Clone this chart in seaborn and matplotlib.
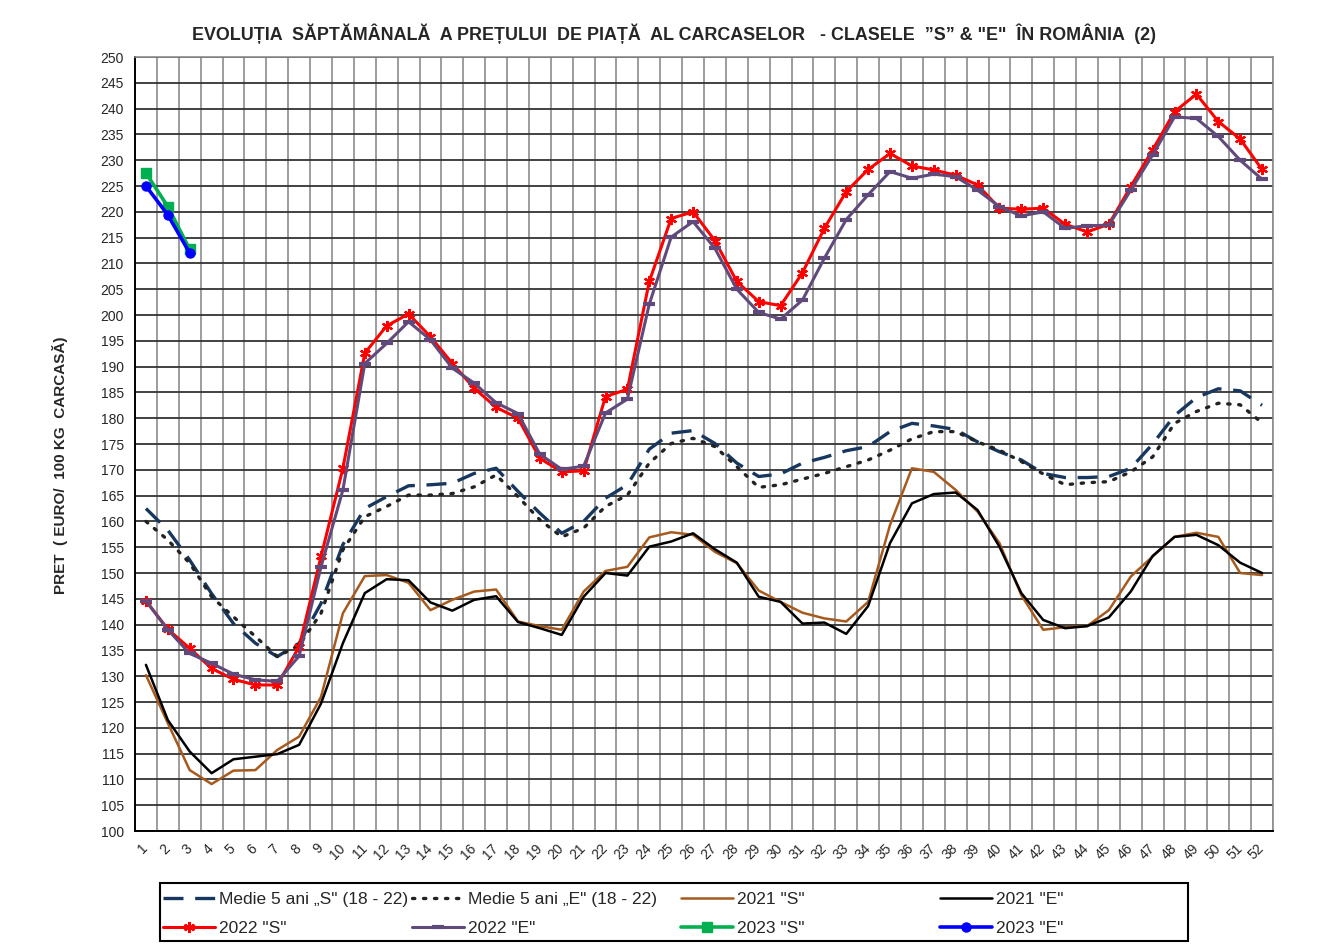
import numpy as np
import matplotlib
matplotlib.use("Agg")
import matplotlib.pyplot as plt
from matplotlib.patches import Rectangle
import seaborn as sns

# weekly carcass prices, EUR / 100 kg
weeks = list(range(1, 53))

medie_s = [162.5, 158.3, 152.5, 146.0, 140.2, 136.4, 133.8, 136.4, 144.1, 155.5,
           162.5, 164.8, 166.9, 167.1, 167.4, 169.3, 170.3, 165.8, 161.6, 157.7,
           160.0, 164.5, 167.1, 174.0, 177.1, 177.6, 175.1, 171.3, 168.7, 169.2,
           171.3, 172.4, 173.7, 174.5, 177.4, 179.0, 178.5, 177.8, 175.4, 173.5,
           171.9, 169.3, 168.5, 168.5, 168.7, 170.3, 175.0, 180.5, 184.0, 185.7,
           185.3, 182.5]
medie_e = [160.0, 156.4, 151.9, 145.4, 141.5, 137.7, 133.8, 136.0, 142.2, 154.5,
           160.9, 162.9, 165.1, 165.1, 165.4, 166.7, 169.0, 164.8, 160.3, 157.0,
           158.7, 162.9, 165.1, 171.3, 175.1, 176.1, 174.5, 170.6, 166.6, 167.1,
           168.2, 169.3, 170.6, 171.9, 173.8, 176.0, 177.4, 177.4, 175.4, 173.8,
           171.6, 169.2, 167.1, 167.5, 167.7, 169.6, 172.5, 179.0, 181.3, 182.9,
           182.6, 179.1]
s_2021 = [130.2, 120.9, 111.8, 109.1, 111.7, 111.8, 115.7, 118.3, 126.0, 142.2,
          149.4, 149.6, 148.1, 142.8, 144.8, 146.4, 146.8, 140.6, 139.7, 139.0,
          146.4, 150.4, 151.2, 156.9, 157.9, 157.4, 154.1, 151.9, 146.6, 144.4,
          142.3, 141.2, 140.6, 144.4, 159.3, 170.3, 169.6, 166.1, 161.9, 155.8,
          145.7, 139.0, 139.5, 139.7, 142.8, 149.3, 153.2, 157.0, 157.8, 157.0,
          150.0, 149.6]
e_2021 = [132.2, 121.5, 115.4, 111.2, 113.9, 114.4, 114.9, 116.7, 124.7, 136.4,
          146.1, 148.8, 148.6, 144.3, 142.7, 144.8, 145.5, 140.5, 139.3, 138.0,
          145.4, 150.0, 149.5, 155.1, 156.1, 157.7, 154.6, 152.0, 145.4, 144.4,
          140.2, 140.4, 138.2, 143.6, 155.8, 163.5, 165.3, 165.6, 162.2, 155.1,
          146.1, 140.9, 139.3, 139.7, 141.4, 146.4, 153.3, 157.0, 157.4, 155.4,
          152.0, 150.0]
s_2022 = [144.6, 139.1, 135.4, 131.5, 129.4, 128.3, 128.3, 135.7, 153.2, 170.3,
          192.6, 197.9, 200.2, 195.8, 190.6, 185.8, 182.1, 180.0, 172.2, 169.6,
          169.8, 184.2, 185.6, 206.5, 218.7, 220.0, 214.4, 206.5, 202.6, 201.8,
          208.2, 216.8, 223.9, 228.2, 231.3, 228.9, 228.1, 227.1, 225.2, 220.7,
          220.5, 220.7, 217.6, 216.1, 217.6, 224.9, 232.0, 239.4, 242.8, 237.5,
          234.1, 228.2]
e_2022 = [144.6, 139.0, 134.4, 132.5, 130.4, 129.3, 129.0, 133.9, 151.2, 166.1,
          190.6, 194.5, 198.7, 195.2, 189.7, 186.8, 183.0, 180.9, 173.0, 170.1,
          170.7, 181.0, 183.7, 202.1, 215.1, 218.1, 212.9, 205.0, 200.5, 199.2,
          202.9, 211.0, 218.5, 223.3, 227.8, 226.5, 227.3, 226.8, 224.2, 221.0,
          219.2, 220.0, 216.8, 217.3, 217.4, 224.2, 231.0, 238.4, 238.1, 234.6,
          230.0, 226.3]
s_2023 = [227.5, 221.0, 212.7]
e_2023 = [225.0, 219.4, 212.0]

labels = ['Medie 5 ani \u201eS" (18 - 22)', 'Medie 5 ani \u201eE" (18 - 22)',
          '2021 "S"', '2021 "E"', '2022 "S"', '2022 "E"', '2023 "S"', '2023 "E"']

sns.set_style("white")
plt.rcParams['font.family'] = ['Liberation Sans', 'DejaVu Sans']

W, H = 1327, 944
fig = plt.figure(figsize=(W / 100, H / 100), dpi=100)
ax = fig.add_axes([135 / W, 1 - 831 / H, (1273 - 135) / W, (831 - 57) / H])


def mk(c, m, s, mew=1.5):
    return dict(color=c, marker=m, markersize=s, markeredgewidth=mew,
                markeredgecolor=c, markerfacecolor=c)


series = [
    (medie_s, dict(color='#17375E', lw=2.4, linestyle=(0, (6, 3.5)))),
    (medie_e, dict(color='#222222', lw=2.4, linestyle=(0, (0.7, 2.6)), dash_capstyle='round')),
    (s_2021, dict(color='#A65A1E', lw=1.8)),
    (e_2021, dict(color='black', lw=1.8)),
    (s_2022, dict(lw=2.2, **mk('#FF0000', (6, 2, 0), 8, 1.6))),
    (e_2022, dict(lw=2.2, **mk('#604A7B', '_', 9, 3))),
    (s_2023, dict(lw=2.6, **mk('#00B050', 's', 6.5, 1))),
    (e_2023, dict(lw=2.6, **mk('#0000FF', 'o', 6.5, 1))),
]

for (vals, kw), lab in zip(series, labels):
    sns.lineplot(x=weeks[:len(vals)], y=vals, ax=ax, label=lab, legend=False, **kw)

if ax.get_legend() is not None:
    ax.get_legend().remove()

ax.set_xlim(0.5, 52.5)
ax.set_ylim(100, 250)
ax.set_yticks(np.arange(100, 251, 5))
ax.set_yticks(np.arange(100, 251, 1), minor=True)
ax.set_xticks(weeks)
ax.set_xticklabels([str(w) for w in weeks])
ax.set_xticks(np.arange(0.5, 53, 1), minor=True)

ax.yaxis.grid(True, which='major', color='#333333', lw=1.3)
ax.xaxis.grid(True, which='minor', color='#8c8c8c', lw=1.2)
ax.xaxis.grid(False, which='major')
ax.set_axisbelow(True)

ax.tick_params(axis='x', which='major', length=0, pad=11, labelsize=10)
ax.tick_params(axis='x', which='minor', length=6, width=1.2, direction='out', color='black')
ax.tick_params(axis='y', which='major', length=10, width=1.2, direction='inout', labelsize=10, pad=3, color='black')
ax.tick_params(axis='y', which='minor', length=6, width=1, direction='inout', color='black')
plt.setp(ax.get_xticklabels(), rotation=45, ha='right', va='center', rotation_mode='anchor')

for side in ['left', 'bottom']:
    ax.spines[side].set_color('black')
    ax.spines[side].set_linewidth(1.4)
for side in ['top', 'right']:
    ax.spines[side].set_color('#8c8c8c')
    ax.spines[side].set_linewidth(1.2)

ax.set_xlabel('')
ax.set_ylabel('')

fig.text(673.5 / W, 1 - 34 / H,
         'EVOLU\u021aIA  S\u0102PT\u0102M\u00c2NAL\u0102  A PRE\u021aULUI  DE PIA\u021a\u0102  AL CARCASELOR   '
         '- CLASELE  \u201dS\u201d & "E"  \u00ceN ROM\u00c2NIA  (2)',
         ha='center', va='center', fontsize=12.9, fontweight='bold')
fig.text(60 / W, 1 - 465 / H, 'PRET  ( EURO/  100 KG  CARCAS\u0102)', rotation=90,
         ha='center', va='center', fontsize=11, fontweight='bold')

# legend: 4 columns x 2 rows inside one frame
handles, labs = ax.get_legend_handles_labels()
cols = [(0, 4), (1, 5), (2, 6), (3, 7)]
col_x = [163, 412, 681, 940]
for (a, b), x in zip(cols, col_x):
    fig.legend([handles[a], handles[b]], [labs[a], labs[b]], loc='upper left',
               bbox_to_anchor=(x / W, 1 - 892 / H), frameon=False, borderpad=0,
               borderaxespad=0, handlelength=3.0, handletextpad=0.2,
               labelspacing=0.78, fontsize=12.5)
fig.patches.append(Rectangle((160 / W, 3 / H), 1028 / W, 58 / H, fill=False,
                             edgecolor='black', lw=1.5, transform=fig.transFigure))

fig.savefig('out.png', dpi=100)
